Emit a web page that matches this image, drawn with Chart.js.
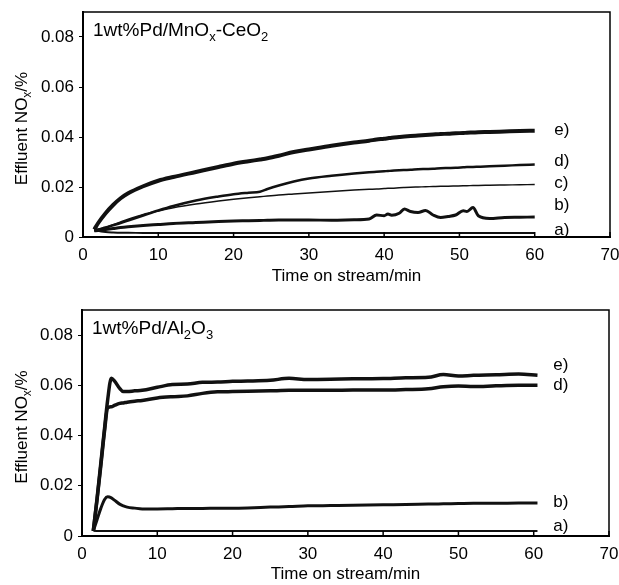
<!DOCTYPE html>
<html>
<head>
<meta charset="utf-8">
<script src="https://cdn.jsdelivr.net/npm/chart.js@4"></script>
<style>
  body { margin: 0; background: #fff; }
  canvas { display: block; }
</style>
</head>
<body>
<canvas id="top-chart" width="619" height="290"></canvas>
<canvas id="bottom-chart" width="619" height="295"></canvas>
<script>
// Time on stream (min), 1wt%Pd/MnOx-CeO2 panel
const topTime = [1.5, 2, 3, 4, 5, 6, 8, 10, 12, 15,
  18, 20, 22, 23.5, 24.5, 26, 28, 30, 33, 36,
  38, 39, 40, 40.5, 41, 42, 42.7, 43.5, 44.5, 45.5,
  46.5, 47.5, 48.5, 49.5, 50.5, 51, 51.8, 52.5, 54, 56,
  58, 60];
const topE = [0.003, 0.0055, 0.0095, 0.0128, 0.0155, 0.0175, 0.0203, 0.0225, 0.024, 0.026,
  0.028, 0.0293, 0.0303, 0.031, 0.0315, 0.0325, 0.034, 0.035, 0.0365, 0.0378,
  0.0385, 0.039, 0.0393, 0.0395, 0.0397, 0.04, 0.0402, 0.0404, 0.0406, 0.0408,
  0.041, 0.0412, 0.0413, 0.0415, 0.0416, 0.0417, 0.0418, 0.0419, 0.042, 0.0422,
  0.0424, 0.0425];
const topD = [0.0025, 0.003, 0.0038, 0.0047, 0.0056, 0.0066, 0.0086, 0.0106, 0.0124, 0.0146,
  0.0162, 0.0171, 0.0177, 0.0181, 0.0192, 0.0206, 0.0222, 0.0234, 0.0245, 0.0254,
  0.0259, 0.0261, 0.0263, 0.0264, 0.0265, 0.0267, 0.0268, 0.0269, 0.0271, 0.0272,
  0.0273, 0.0275, 0.0276, 0.0277, 0.0279, 0.028, 0.028, 0.0281, 0.0283, 0.0285,
  0.0288, 0.029];
const topC = [0.0025, 0.003, 0.0038, 0.0049, 0.006, 0.0071, 0.009, 0.0104, 0.0117, 0.0132,
  0.0144, 0.0151, 0.0157, 0.0161, 0.0164, 0.0168, 0.0172, 0.0176, 0.0182, 0.0188,
  0.0191, 0.0192, 0.0194, 0.0195, 0.0195, 0.0197, 0.0198, 0.0199, 0.02, 0.0201,
  0.0202, 0.0203, 0.0203, 0.0204, 0.0205, 0.0205, 0.0206, 0.0206, 0.0207, 0.0208,
  0.0209, 0.021];
const topB = [0.0025, 0.0026, 0.003, 0.0034, 0.0038, 0.0041, 0.0046, 0.005, 0.0054, 0.0058,
  0.0062, 0.0064, 0.0065, 0.0066, 0.0067, 0.0068, 0.0068, 0.0068, 0.0067, 0.0069,
  0.0072, 0.0088, 0.0085, 0.0092, 0.0087, 0.0095, 0.0112, 0.0102, 0.0098, 0.0106,
  0.0088, 0.0078, 0.0082, 0.0088, 0.0105, 0.0102, 0.0118, 0.0085, 0.0074, 0.0078,
  0.0079, 0.008];
const topA = [0.003, 0.0025, 0.002, 0.0018, 0.0017, 0.0017, 0.0016, 0.0016, 0.0016, 0.0016,
  0.0016, 0.0016, 0.0016, 0.0016, 0.0016, 0.0016, 0.0016, 0.0016, 0.0016, 0.0016,
  0.0016, 0.0016, 0.0016, 0.0016, 0.0016, 0.0016, 0.0016, 0.0016, 0.0016, 0.0016,
  0.0016, 0.0016, 0.0016, 0.0016, 0.0016, 0.0016, 0.0016, 0.0016, 0.0016, 0.0016,
  0.0016, 0.0016];
const topTags = ['a)', 'b)', 'c)', 'd)', 'e)'];
const topTagY = [0.0028, 0.0128, 0.0216, 0.0304, 0.0428];

// 1wt%Pd/Al2O3 panel
const botTime = [1.5, 2, 2.5, 3, 3.4, 3.9, 4.3, 5, 5.5, 6,
  7, 8, 10, 12, 14, 16, 18, 20, 22, 25,
  27.5, 30, 33, 36, 40, 43, 46, 48, 50, 52,
  55, 58, 60.5];
const botE = [0.002, 0.015, 0.029, 0.043, 0.054, 0.0628, 0.0618, 0.0588, 0.0575, 0.0575,
  0.0578, 0.058, 0.0592, 0.0603, 0.0605, 0.0612, 0.0613, 0.0616, 0.0617, 0.062,
  0.0628, 0.0623, 0.0624, 0.0626, 0.0627, 0.063, 0.0632, 0.0643, 0.0637, 0.064,
  0.0642, 0.0645, 0.064];
const botD = [0.002, 0.0145, 0.028, 0.042, 0.051, 0.0515, 0.052, 0.0528, 0.053, 0.0533,
  0.0537, 0.054, 0.055, 0.0555, 0.0558, 0.0568, 0.0574, 0.0575, 0.0576, 0.0578,
  0.058, 0.058, 0.058, 0.0581, 0.0581, 0.0583, 0.0586, 0.0594, 0.0597, 0.0595,
  0.0598, 0.06, 0.06];
const botB = [0.002, 0.0065, 0.011, 0.0145, 0.0156, 0.0152, 0.0143, 0.0127, 0.012, 0.0115,
  0.0111, 0.0108, 0.0108, 0.0109, 0.011, 0.011, 0.0111, 0.0111, 0.0112, 0.0115,
  0.0117, 0.012, 0.0121, 0.0122, 0.0124, 0.0125, 0.0127, 0.0128, 0.0129, 0.013,
  0.013, 0.0131, 0.0131];
const botA = [0.0022, 0.002, 0.002, 0.002, 0.002, 0.002, 0.002, 0.002, 0.002, 0.002,
  0.002, 0.002, 0.002, 0.002, 0.002, 0.002, 0.002, 0.002, 0.002, 0.002,
  0.002, 0.002, 0.002, 0.002, 0.002, 0.002, 0.002, 0.002, 0.002, 0.002,
  0.002, 0.002, 0.002];
const botTags = ['a)', 'b)', 'd)', 'e)'];
const botTagY = [0.0037, 0.0136, 0.060, 0.068];

const tagX = 62.6;
const FONT = '"Liberation Sans", Arial, sans-serif';

function pts(xs, ys) {
  return xs.map((x, i) => ({x: x, y: ys[i]}));
}

// draw text with subscripts, parts = [{t, sub}]
function drawRich(ctx, parts, x, y, size, align) {
  const subSize = Math.round(size * 0.68);
  let total = 0;
  const widths = parts.map(p => {
    ctx.font = (p.sub ? subSize : size) + 'px ' + FONT;
    const w = ctx.measureText(p.t).width;
    total += w;
    return w;
  });
  let cx = align === 'center' ? x - total / 2 : x;
  ctx.textAlign = 'left';
  ctx.textBaseline = 'alphabetic';
  parts.forEach((p, i) => {
    ctx.font = (p.sub ? subSize : size) + 'px ' + FONT;
    ctx.fillText(p.t, cx, p.sub ? y + size * 0.25 : y);
    cx += widths[i];
  });
}

const yTitle = [{t: 'Effluent NO'}, {t: 'x', sub: true}, {t: '/%'}];

const framePlugin = {
  id: 'frame',
  afterDraw(chart) {
    const {ctx, chartArea: a} = chart;
    const x = chart.scales.x, y = chart.scales.y;
    const cfg = chart.options.plugins.frame;
    ctx.save();
    ctx.strokeStyle = '#000';
    ctx.fillStyle = '#000';
    ctx.lineWidth = 1.5;
    ctx.strokeRect(a.left, a.top, a.right - a.left, a.bottom - a.top);
    // small inward ticks on the time axis
    x.ticks.forEach(t => {
      const px = x.getPixelForValue(t.value);
      ctx.beginPath();
      ctx.moveTo(px, a.bottom);
      ctx.lineTo(px, a.bottom - 5);
      ctx.stroke();
    });
    ctx.font = '17px ' + FONT;
    ctx.textAlign = 'left';
    ctx.textBaseline = 'middle';
    cfg.tags.forEach((t, i) => {
      ctx.fillText(t, x.getPixelForValue(tagX), y.getPixelForValue(cfg.tagY[i]));
    });
    drawRich(ctx, cfg.label, a.left + 10, a.top + 24, 19, 'left');
    ctx.translate(27, (a.top + a.bottom) / 2 + 4);
    ctx.rotate(-Math.PI / 2);
    drawRich(ctx, yTitle, 0, 0, 17, 'center');
    ctx.restore();
  }
};

function makeChart(id, time, series, widths, tags, tagY, label, pad, yWidth, xHeight, titlePad) {
  const datasets = series.map((s, i) => ({
    data: pts(time, s),
    borderColor: '#111',
    borderWidth: widths[i],
    pointRadius: 0,
    cubicInterpolationMode: 'monotone',
    fill: false
  }));
  return new Chart(document.getElementById(id).getContext('2d'), {
    type: 'line',
    data: {datasets: datasets},
    plugins: [framePlugin],
    options: {
      responsive: false,
      animation: false,
      devicePixelRatio: 1,
      layout: {padding: pad},
      plugins: {
        legend: {display: false},
        tooltip: {enabled: false},
        frame: {tags: tags, tagY: tagY, label: label}
      },
      scales: {
        x: {
          type: 'linear',
          min: 0,
          max: 70,
          grid: {display: false},
          border: {display: true, color: '#000', width: 2},
          ticks: {stepSize: 10, color: '#000', padding: 0, maxRotation: 0, font: {family: FONT, size: 17}},
          title: {display: true, text: 'Time on stream/min', color: '#000', padding: {top: 0, bottom: titlePad}, font: {family: FONT, size: 17}},
          afterFit: s => { s.height = xHeight; s.paddingLeft = 0; s.paddingRight = 0; }
        },
        y: {
          min: 0,
          max: 0.09,
          grid: {drawOnChartArea: false, drawTicks: true, tickLength: 4, color: '#000'},
          border: {display: true, color: '#000', width: 2},
          ticks: {
            stepSize: 0.02,
            includeBounds: false,
            color: '#000',
            padding: 5,
            font: {family: FONT, size: 17},
            callback: v => v === 0 ? '0' : v.toFixed(2)
          },
          afterFit: s => { s.width = yWidth; s.paddingTop = 0; s.paddingBottom = 0; }
        }
      }
    }
  });
}

makeChart('top-chart', topTime, [topA, topB, topC, topD, topE], [2, 3, 1.5, 2.5, 4],
  topTags, topTagY,
  [{t: '1wt%Pd/MnO'}, {t: 'x', sub: true}, {t: '-CeO'}, {t: '2', sub: true}],
  {left: 0, right: 9, top: 12, bottom: 0}, 83, 53, 3);

makeChart('bottom-chart', botTime, [botA, botB, botD, botE], [2, 3, 3.5, 3.5],
  botTags, botTagY,
  [{t: '1wt%Pd/Al'}, {t: '2', sub: true}, {t: 'O'}, {t: '3', sub: true}],
  {left: 0, right: 10, top: 20, bottom: 0}, 82, 49, 0);
</script>
</body>
</html>
